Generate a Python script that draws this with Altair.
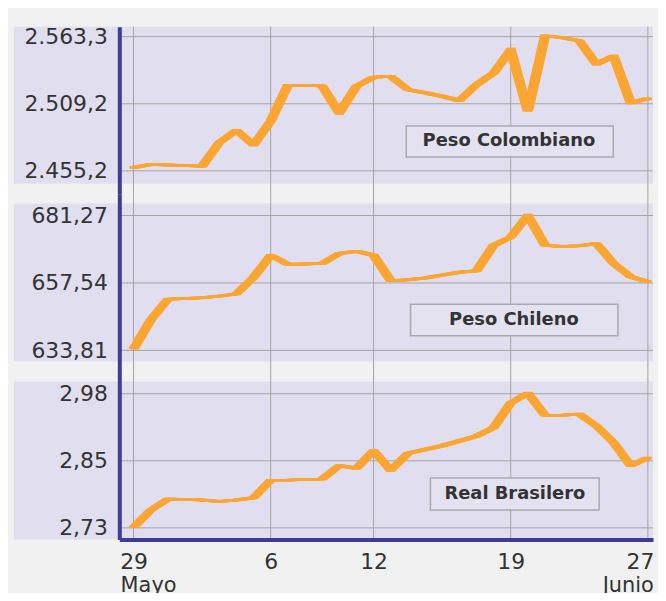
import altair as alt
import pandas as pd

# ---------------- data ----------------
day_index = list(range(31))  # 0 = 29 Mayo ... 30 = 27 Junio (chart positions)

peso_colombiano = [2457.8, 2460.2, 2459.8, 2459.4, 2458.8, 2477.9, 2487.8, 2476.0, 2495.2, 2524.1,
                   2524.1, 2523.5, 2501.9, 2523.3, 2530.5, 2531.3, 2520.6, 2518.1, 2515.2, 2511.8,
                   2524.6, 2533.9, 2552.6, 2503.2, 2563.9, 2562.5, 2559.9, 2541.1, 2547.8, 2509.9, 2513.4]
peso_chileno = [634.3, 644.5, 651.8, 652.1, 652.3, 652.9, 653.7, 659.5, 667.3, 664.1,
                664.2, 664.4, 667.9, 668.7, 667.3, 658.3, 658.7, 659.3, 660.3, 661.3,
                661.8, 670.8, 673.7, 681.3, 670.8, 670.4, 670.6, 671.4, 664.4, 659.7, 657.9]
real_brasilero = [2.731, 2.763, 2.784, 2.783, 2.782, 2.779, 2.782, 2.786, 2.819, 2.819,
                  2.820, 2.821, 2.846, 2.841, 2.874, 2.837, 2.869, 2.876, 2.883, 2.892,
                  2.901, 2.917, 2.963, 2.981, 2.940, 2.940, 2.942, 2.920, 2.889, 2.846, 2.861]

x_tick_values = [0, 8, 14, 22, 30]
x_tick_labels = ["29", "6", "12", "19", "27"]
month_positions = [0, 30]
month_labels = ["Mayo", "Junio"]

col_ticks = [2455.2, 2509.2, 2563.3]
col_tick_labels = ["2.455,2", "2.509,2", "2.563,3"]
chi_ticks = [633.81, 657.54, 681.27]
chi_tick_labels = ["633,81", "657,54", "681,27"]
real_ticks = [2.73, 2.855, 2.98]
real_tick_labels = ["2,73", "2,85", "2,98"]

series_names = ["Peso Colombiano", "Peso Chileno", "Real Brasilero"]

# ---------------- style ----------------
FONT = "DejaVu Sans"
BG = "#f1f1f1"
LAVENDER = "#e1dfef"
BOX_FILL = "#e4e2f0"
BOX_STROKE = "#a9a9b0"
ORANGE = "#fba634"
BLUE = "#3d3d95"
GRID = "#a4a4a4"
TEXT = "#333333"
W = 537
X_DOMAIN = [-0.83, 30.30]


def label_expr(vals, labels):
    parts = [f"abs(datum.value - ({v})) < 1e-6 ? '{l}'" for v, l in zip(vals, labels)]
    return " : ".join(parts) + " : ''"


def panel(values, ticks, tick_labels, domain, height, band_top, band_bottom,
          name, box, show_x=False):
    xscale = alt.Scale(domain=X_DOMAIN, nice=False, zero=False)
    yscale = alt.Scale(domain=domain, nice=False, zero=False)
    if show_x:
        x_axis = alt.Axis(values=x_tick_values, labelExpr=label_expr(x_tick_values, x_tick_labels),
                          title=None, grid=False, ticks=False, domain=True, domainColor=BLUE,
                          domainWidth=4, labelFont=FONT, labelFontSize=22, labelColor=TEXT,
                          labelPadding=12, labelFlush=6, labelFlushOffset=6,
                          labelOverlap=False, zindex=1)
    else:
        x_axis = None
    y_axis = alt.Axis(values=ticks, labelExpr=label_expr(ticks, tick_labels), title=None,
                      grid=False, ticks=False, domain=True, domainColor=BLUE, domainWidth=4,
                      labelFont=FONT, labelFontSize=22, labelColor=TEXT, labelPadding=12,
                      labelOverlap=False, zindex=1)

    one = pd.DataFrame({"k": [0]})
    df = pd.DataFrame({"d": day_index, "v": values})
    yt = pd.DataFrame({"t": ticks})
    xt = pd.DataFrame({"t": x_tick_values})

    band = alt.Chart(one).mark_rect(color=LAVENDER, clip=False).encode(
        x=alt.value(-106), x2=alt.value(W), y=alt.value(band_top), y2=alt.value(band_bottom))
    hgrid = alt.Chart(yt).mark_rule(color=GRID, strokeWidth=1).encode(
        y=alt.Y("t:Q", scale=yscale, axis=y_axis))
    vgrid = alt.Chart(xt).mark_rule(color=GRID, strokeWidth=1).encode(
        x=alt.X("t:Q", scale=xscale, axis=x_axis))

    layers = [band, hgrid, vgrid]
    for off in [-4, -3, -2, -1, 0, 1, 2, 3, 4]:
        layers.append(
            alt.Chart(df).mark_line(color=ORANGE, strokeWidth=2.5, xOffset=off).encode(
                x=alt.X("d:Q", scale=xscale, axis=x_axis),
                y=alt.Y("v:Q", scale=yscale, axis=y_axis)))

    bx1, bx2, by1, by2, tx, ty = box
    layers.append(alt.Chart(one).mark_rect(fill=BOX_FILL, stroke=BOX_STROKE, strokeWidth=1.5).encode(
        x=alt.value(bx1), x2=alt.value(bx2), y=alt.value(by1), y2=alt.value(by2)))
    layers.append(alt.Chart(one).mark_text(text=name, font=FONT, fontSize=18, fontWeight="bold",
                                           color=TEXT, align="center", baseline="middle").encode(
        x=alt.value(tx), y=alt.value(ty)))

    if show_x:
        m_left = pd.DataFrame({"d": month_positions[:1], "m": month_labels[:1]})
        m_right = pd.DataFrame({"d": month_positions[1:], "m": month_labels[1:]})
        layers.append(alt.Chart(m_left).mark_text(font=FONT, fontSize=21, color=TEXT, align="left",
                                                   baseline="top", dx=-13, clip=False).encode(
            x=alt.X("d:Q", scale=xscale, axis=x_axis), y=alt.value(height + 36), text="m:N"))
        layers.append(alt.Chart(m_right).mark_text(font=FONT, fontSize=21, color=TEXT, align="right",
                                                    baseline="top", dx=6, clip=False).encode(
            x=alt.X("d:Q", scale=xscale, axis=x_axis), y=alt.value(height + 36), text="m:N"))

    return alt.layer(*layers).properties(width=W, height=height)


p1 = panel(peso_colombiano, col_ticks, col_tick_labels, [2436.8, 2571.3], 168, 0, 158,
           series_names[0], (288.7, 497, 100, 131, 392, 115.5))
p2 = panel(peso_chileno, chi_ticks, chi_tick_labels, [626.36, 688.96], 179, 10, 169,
           series_names[1], (293, 501.7, 111.3, 143, 397, 127.5))
p3 = panel(real_brasilero, real_ticks, real_tick_labels, [2.7083, 3.0213], 169, 10, 169,
           series_names[2], (313, 482.7, 107, 139.3, 398, 123), show_x=True)

chart = alt.vconcat(p1, p2, p3, spacing=0, bounds="flush").properties(
    background=BG, padding={"left": 5, "top": 15, "right": 0, "bottom": -6}
).configure_view(stroke="transparent")

chart.save("out.html", embed_options={"renderer": "svg", "actions": False})
